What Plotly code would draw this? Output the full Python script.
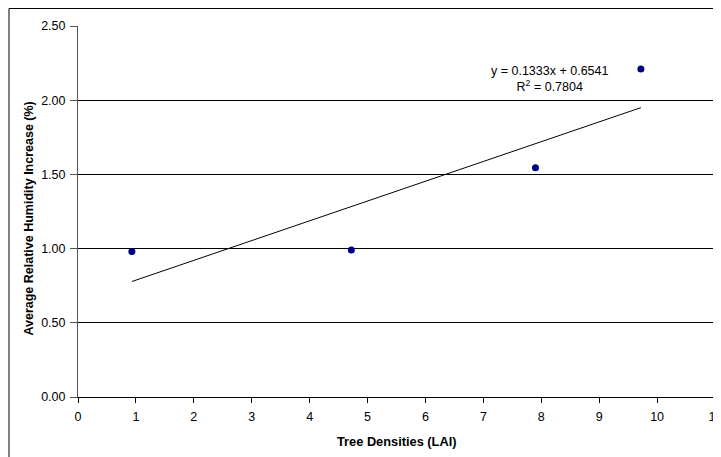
import plotly.graph_objects as go

lai = [0.93, 4.72, 7.90, 9.72]
humidity = [0.98, 0.99, 1.545, 2.21]
slope = 0.1333
intercept = 0.6541
r2 = 0.7804
x_ticks = list(range(0, 12))
y_ticks = [0, 0.5, 1.0, 1.5, 2.0, 2.5]

trend_x = [min(lai), max(lai)]
trend_y = [slope * v + intercept for v in trend_x]

font = "Liberation Sans, Arial, sans-serif"

fig = go.Figure()
fig.add_trace(go.Scatter(x=trend_x, y=trend_y, mode="lines",
                         line=dict(color="black", width=1), hoverinfo="skip"))
fig.add_trace(go.Scatter(x=lai, y=humidity, mode="markers",
                         marker=dict(color="#000080", size=7)))

# page body has an 8px margin, so the figure is sized to fit the window
fig.update_layout(
    width=713, height=449,
    margin=dict(l=70, r=6, t=18, b=60),
    paper_bgcolor="white", plot_bgcolor="white",
    showlegend=False,
    font=dict(family=font, size=12, color="black"),
    xaxis=dict(range=[0, 11], tickvals=x_ticks, ticks="outside", ticklen=5,
               tickcolor="black", showline=True, linecolor="black", linewidth=1,
               showgrid=False, zeroline=False, automargin=False,
               ticklabelstandoff=3, ticklabeloverflow="allow",
               tickfont=dict(size=12.5)),
    yaxis=dict(range=[0, 2.5], tickvals=y_ticks, tickformat=".2f",
               ticks="outside", ticklen=7, tickcolor="#555555",
               showline=True, linecolor="#555555", linewidth=1,
               showgrid=True, gridcolor="black", gridwidth=1, zeroline=False,
               automargin=False, ticklabelstandoff=2, tickfont=dict(size=12.5)),
    shapes=[
        dict(type="line", xref="paper", yref="paper", x0=1, x1=1, y0=0, y1=1,
             line=dict(color="#888888", width=1)),
        dict(type="rect", xref="paper", yref="paper", x0=-0.1083, x1=1.2,
             y0=-0.5, y1=1.0472, line=dict(color="black", width=1),
             fillcolor="rgba(0,0,0,0)"),
    ],
    annotations=[
        dict(x=8.15, y=2.145, xref="x", yref="y", showarrow=False,
             text=f"y = {slope:.4f}x + {intercept:.4f}<br>R<sup>2</sup> = {r2:.4f}",
             align="center", font=dict(size=12.5)),
        dict(x=0.5, y=-0.1186, xref="paper", yref="paper", showarrow=False,
             text="<b>Tree Densities (LAI)</b>", font=dict(size=12.8),
             xanchor="center", yanchor="middle"),
        dict(x=-0.0769, y=0.481, xref="paper", yref="paper", showarrow=False,
             text="<b>Average Relative Humidity Increase (%)</b>",
             font=dict(size=12.5), textangle=-90,
             xanchor="center", yanchor="middle"),
    ],
)

fig.write_html("out.html")
